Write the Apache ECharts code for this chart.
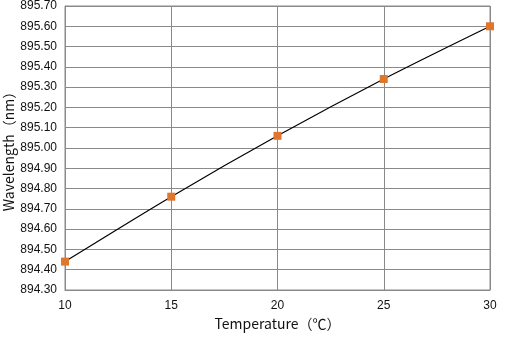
<!DOCTYPE html>
<html>
<head>
<meta charset="utf-8">
<script src="https://cdn.jsdelivr.net/npm/echarts@6/dist/echarts.min.js"></script>
<style>
  html, body { margin: 0; padding: 0; background: #fff; }
  #chart { width: 510px; height: 340px; }
</style>
</head>
<body>
<div id="chart"></div>
<script>
var temperature = [10, 15, 20, 25, 30];
var wavelength = [894.44, 894.76, 895.06, 895.34, 895.60];

var myChart = echarts.init(document.getElementById('chart'));
var pts = temperature.map(function (t, i) { return [t, wavelength[i]]; });

var option = {
    animation: false,
    textStyle: { fontFamily: 'Liberation Sans' },
    grid: {
        left: 65, right: 20, top: 6, bottom: 50,
        outerBoundsMode: 'none', containLabel: false,
        show: true, borderColor: '#8a8a8a', borderWidth: 1
    },
    xAxis: {
        type: 'value',
        min: 10, max: 30, interval: 5,
        name: 'Temperature（℃）',
        nameLocation: 'middle',
        nameGap: 27,
        nameMoveOverlap: false,
        nameTextStyle: { fontSize: 14, color: '#111', fontFamily: 'Noto Sans CJK SC' },
        axisLine: { lineStyle: { color: '#8a8a8a' } },
        axisTick: { show: false },
        axisLabel: { color: '#111', fontSize: 12, margin: 10 },
        splitLine: { lineStyle: { color: '#8a8a8a' } }
    },
    yAxis: {
        type: 'value',
        min: 894.3, max: 895.7, interval: 0.1,
        name: 'Wavelength（nm）',
        nameLocation: 'middle',
        nameGap: 49,
        nameMoveOverlap: false,
        nameTextStyle: { fontSize: 14, color: '#111', fontFamily: 'Noto Sans CJK SC' },
        axisLine: { show: true, lineStyle: { color: '#8a8a8a' } },
        axisTick: { show: false },
        axisLabel: {
            color: '#111', fontSize: 12, margin: 8,
            formatter: function (v) { return v.toFixed(2); }
        },
        splitLine: { lineStyle: { color: '#8a8a8a' } }
    },
    series: [{
        type: 'line',
        data: pts,
        smooth: 0.3,
        symbol: 'rect',
        symbolSize: 8,
        lineStyle: { color: '#000', width: 1.2 },
        itemStyle: { color: '#E0752D' }
    }]
};
myChart.setOption(option);
</script>
</body>
</html>
